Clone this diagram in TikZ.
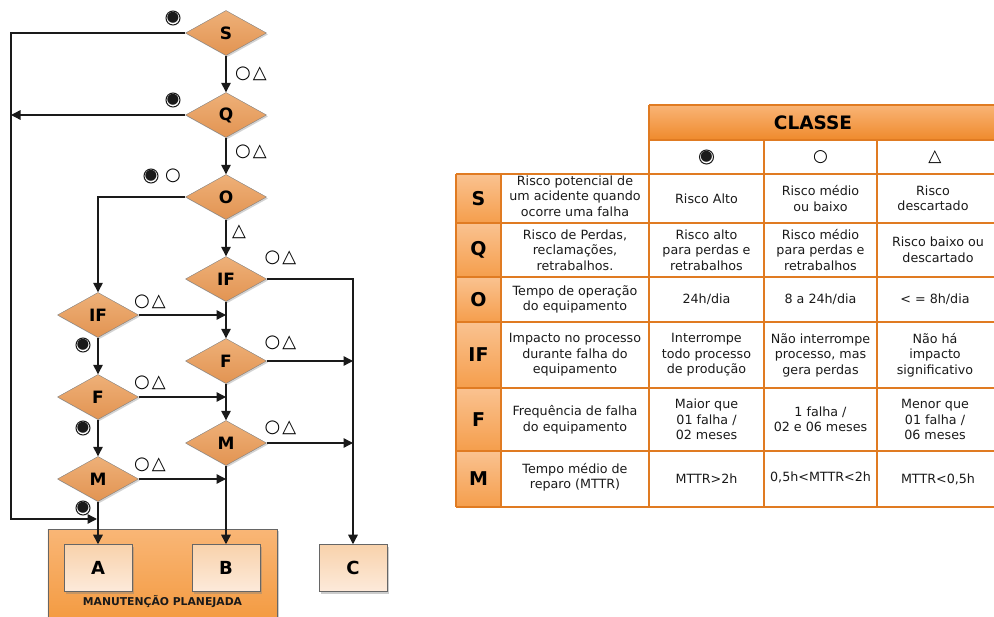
\documentclass[tikz,border=0pt]{standalone}
\usepackage{fontspec}
\setmainfont{DejaVu Sans}
\usetikzlibrary{shapes.geometric,arrows.meta,shadows}
\definecolor{dtop}{HTML}{EEB078}
\definecolor{dbot}{HTML}{E29452}
\definecolor{btop}{HTML}{F8D2AC}
\definecolor{bbot}{HTML}{FDEADA}
\definecolor{ktop}{HTML}{F9B676}
\definecolor{kbot}{HTML}{F3983C}
\definecolor{htop}{HTML}{F9B476}
\definecolor{hbot}{HTML}{EF8A2C}
\definecolor{ltop}{HTML}{FAC290}
\definecolor{lbot}{HTML}{F59E4C}
\definecolor{grid}{HTML}{E07B22}
\definecolor{ink}{HTML}{1A1A1A}
\begin{document}
\begin{tikzpicture}[x=1pt,y=-1pt,
  decis/.style={diamond, draw=black!50, line width=0.4pt, top color=dtop, bottom color=dbot,
    minimum width=81pt, minimum height=45pt, inner sep=0pt,
    font=\bfseries\fontsize{17}{17}\selectfont,
    drop shadow={shadow xshift=1.5pt, shadow yshift=-1.5pt, opacity=0.35}},
  endbox/.style={rectangle, draw=black!60, line width=0.5pt, top color=btop, bottom color=bbot,
    minimum width=68pt, minimum height=47pt, inner sep=0pt,
    font=\bfseries\fontsize{18}{18}\selectfont,
    drop shadow={shadow xshift=2pt, shadow yshift=-2pt, opacity=0.4}},
  conn/.style={draw=ink, line width=1.4pt, -{Triangle[length=9.5pt,width=9.5pt]}},
  sym/.style={inner sep=0pt, font=\fontsize{18}{18}\selectfont},
  dot/.style={inner sep=0pt, font=\fontsize{14.5}{14.5}\selectfont, text=ink},
  ring/.style={draw=ink, line width=1pt},
  tsym/.style={inner sep=0pt, font=\fontsize{17}{17}\selectfont},
  cell/.style={align=center, inner sep=0pt, text=ink, font=\fontsize{12.7}{15.5}\selectfont},
  lab/.style={inner sep=0pt, font=\bfseries\fontsize{19}{19}\selectfont},
  gline/.style={draw=grid, line width=1.8pt}
]
\path[use as bounding box] (0,0) rectangle (994,617);
\clip (0,0) rectangle (994,617);

% ---------------- container
\node[draw=black!60, line width=0.5pt, top color=ktop, bottom color=kbot, minimum width=229pt,
  minimum height=100pt, inner sep=0pt, anchor=north west,
  drop shadow={shadow xshift=2pt, shadow yshift=-2pt, opacity=0.4}] (cont) at (47.5,529) {};
\node[inner sep=0pt, font=\bfseries\fontsize{10.8}{11}\selectfont, text=ink] (mp) at (162.5,602) {MANUTENÇÃO PLANEJADA};

% ---------------- decisions
\node[decis] (S) at (226,33) {S};
\node[decis] (Q) at (226,115) {Q};
\node[decis] (O) at (226,197) {O};
\node[decis] (IFR) at (226,279) {IF};
\node[decis] (IFL) at (98,315) {IF};
\node[decis] (FR) at (226,361) {F};
\node[decis] (FL) at (98,397) {F};
\node[decis] (MR) at (226,443) {M};
\node[decis] (ML) at (98,479) {M};

\node[endbox] (A) at (98,568) {A};
\node[endbox] (B) at (226,568) {B};
\node[endbox] (C) at (353,568) {C};

\coordinate (lb) at (11,519);
\coordinate (ja) at (97,519);

% ---------------- connectors
\draw[conn] (S.west) -| (lb) -- (ja);
\draw[conn] (S.south) -- (Q.north);
\draw[conn] (Q.west) -- (Q.west -| lb);
\draw[conn] (Q.south) -- (O.north);
\draw[conn] (O.west) -| (IFL.north);
\draw[conn] (O.south) -- (IFR.north);
\draw[conn] (IFR.east) -| (C.north);
\draw[conn] (IFL.east) -- (IFL.east -| IFR.south);
\draw[conn] (IFR.south) -- (FR.north);
\draw[conn] (IFL.south) -- (FL.north);
\draw[conn] (FR.east) -- (FR.east -| C.north);
\draw[conn] (FL.east) -- (FL.east -| FR.south);
\draw[conn] (FR.south) -- (MR.north);
\draw[conn] (FL.south) -- (ML.north);
\draw[conn] (MR.east) -- (MR.east -| C.north);
\draw[conn] (ML.east) -- (ML.east -| MR.south);
\draw[conn] (ML.south) -- (A.north);
\draw[conn] (MR.south) -- (B.north);

% ---------------- symbols on flowchart
\foreach \n/\px/\py in {y1/173/18, y3/173/100, y5/151/176, y9/83/345, y12/83/428, y15/83/508, t1/706.5/157}{
  \node[dot] (\n) at (\px,\py) {●};
  \draw[ring] (\px,\py) circle[radius=7pt];
}
\node[sym] (y2) at (251,74) {○\hspace{2pt}△};
\node[sym] (y4) at (251,152) {○\hspace{2pt}△};
\node[sym] (y5b) at (173,176) {○};
\node[sym] (y6) at (239,232) {△};
\node[sym] (y7) at (280.5,258) {○\hspace{2pt}△};
\node[sym] (y8) at (150,302) {○\hspace{2pt}△};
\node[sym] (y10) at (280.5,343) {○\hspace{2pt}△};
\node[sym] (y11) at (150,383) {○\hspace{2pt}△};
\node[sym] (y13) at (280.5,428) {○\hspace{2pt}△};
\node[sym] (y14) at (150,465) {○\hspace{2pt}△};

% ---------------- table fills
\shade[top color=htop, bottom color=hbot] (649,105) rectangle (1000,140);
\foreach \a/\b in {174/223,223/277,277/322,322/388,388/451,451/507}{
  \shade[top color=ltop, bottom color=lbot] (456,\a) rectangle (501,\b);
}
% grid
\draw[gline] (649,105) -- (1000,105);
\draw[gline] (649,140) -- (1000,140);
\foreach \yy in {174,223,277,322,388,451,507}{
  \draw[gline] (456,\yy) -- (1000,\yy);
}
\draw[gline] (649,105) -- (649,507);
\draw[gline] (764,140) -- (764,507);
\draw[gline] (877,140) -- (877,507);
\draw[gline] (456,174) -- (456,507);
\draw[gline] (501,174) -- (501,507);

% ---------------- table texts
\node[inner sep=0pt, font=\bfseries\fontsize{18.5}{18.5}\selectfont] (hc) at (813,122.5) {CLASSE};
\node[tsym] (t2) at (820.5,157) {○};
\node[tsym] (t3) at (935,157) {△};

\node[lab] (lS) at (478.5,198.5) {S};
\node[lab] (lQ) at (478.5,250) {Q};
\node[lab] (lO) at (478.5,299.5) {O};
\node[lab] (lIF) at (478.5,355) {IF};
\node[lab] (lF) at (478.5,419.5) {F};
\node[lab] (lM) at (478.5,479) {M};

\node[cell] (dS) at (575,196) {Risco potencial de\\um acidente quando\\ocorre uma falha};
\node[cell] (aS) at (706.5,198.5) {Risco Alto};
\node[cell] (bS) at (820.5,198.5) {Risco médio\\ou baixo};
\node[cell] (cS) at (933,198.5) {Risco\\descartado};

\node[cell] (dQ) at (575,250) {Risco de Perdas,\\reclamações,\\retrabalhos.};
\node[cell] (aQ) at (706.5,250) {Risco alto\\para perdas e\\retrabalhos};
\node[cell] (bQ) at (820.5,250) {Risco médio\\para perdas e\\retrabalhos};
\node[cell] (cQ) at (938,250) {Risco baixo ou\\descartado};

\node[cell] (dO) at (575,299.5) {Tempo de operação\\do equipamento};
\node[cell] (aO) at (706.5,299.5) {24h/dia};
\node[cell] (bO) at (820.5,299.5) {8 a 24h/dia};
\node[cell] (cO) at (935,299.5) {< = 8h/dia};

\node[cell] (dIF) at (575,355) {Impacto no processo\\durante falha do\\equipamento};
\node[cell] (aIF) at (706.5,355) {Interrompe\\todo processo\\de produção};
\node[cell] (bIF) at (820.5,355) {Não interrompe\\processo, mas\\gera perdas};
\node[cell] (cIF) at (935,355) {Não há\\impacto\\significativo};

\node[cell] (dF) at (575,419.5) {Frequência de falha\\do equipamento};
\node[cell] (aF) at (706.5,419.5) {Maior que\\01 falha /\\02 meses};
\node[cell] (bF) at (820.5,419.5) {1 falha /\\02 e 06 meses};
\node[cell] (cF) at (935,419.5) {Menor que\\01 falha /\\06 meses};

\node[cell] (dM) at (575,477) {Tempo médio de\\reparo (MTTR)};
\node[cell] (aM) at (706.5,479) {MTTR>2h};
\node[cell] (bM) at (820.5,477) {0,5h<MTTR<2h};
\node[cell] (cM) at (938,479) {MTTR<0,5h};
\end{tikzpicture}
\end{document}
